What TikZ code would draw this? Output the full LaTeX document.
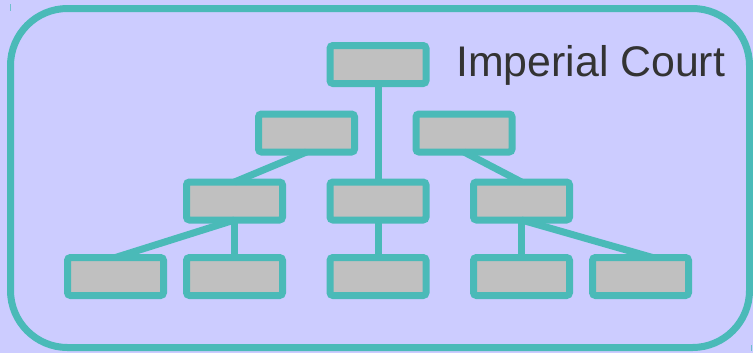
\documentclass[tikz,border=0pt]{standalone}
\usepackage{fontspec}
\setmainfont{Liberation Sans}
\usetikzlibrary{calc}
\definecolor{bg}{HTML}{CCCCFF}
\definecolor{tealline}{HTML}{4ABAB8}
\definecolor{boxgray}{HTML}{C0C0C0}
\definecolor{txt}{HTML}{333333}
\begin{document}
\begin{tikzpicture}[x=1bp,y=-1bp,
  unit/.style={draw=tealline, fill=boxgray, line width=7bp, rounded corners=3bp,
    minimum width=96bp, minimum height=38bp, inner sep=0pt, outer sep=0pt},
  link/.style={draw=tealline, line width=7bp},
  tick/.style={draw=tealline, line width=0.8bp, opacity=0.7}]
\fill[bg] (0,0) rectangle (753,353);
\useasboundingbox (0,0) rectangle (753,353);
\draw[tealline, line width=7bp, rounded corners=57bp] (10.5,8.5) rectangle (749.5,347.5);
% tiny corner marks
\coordinate (tlA) at (10.5,4); \coordinate (tlB) at (10.5,11);
\coordinate (brA) at (751,345); \coordinate (brB) at (751,351);
\draw[tick] (tlA) -- (tlB);
\draw[tick] (brA) -- (brB);
% nodes
\node[unit] (top) at (378,64.5) {};
\node[unit] (bl) at (306.5,133) {};
\node[unit] (br) at (464,133) {};
\node[unit] (ml) at (234.5,201) {};
\node[unit] (mm) at (378,201) {};
\node[unit] (mr) at (521.5,201) {};
\node[unit] (la) at (115.5,276.5) {};
\node[unit] (lb) at (234.5,276.5) {};
\node[unit] (lc) at (378,276.5) {};
\node[unit] (ld) at (521.5,276.5) {};
\node[unit] (le) at (640.5,276.5) {};
\coordinate (leend) at ($(le.north)+(12,0)$);
% connectors
\draw[link] (top.south) -- (mm.north);
\draw[link] (bl.south) -- (ml.north);
\draw[link] (br.south) -- (mr.north);
\draw[link] (ml.south) -- (la.north);
\draw[link] (ml.south) -- (lb.north);
\draw[link] (mm.south) -- (lc.north);
\draw[link] (mr.south) -- (ld.north);
\draw[link] (mr.south) -- (leend);
\node[anchor=base west, text=txt, font=\fontsize{43}{51}\selectfont, inner sep=0pt] (title) at (456,76.5) {Imperial Court};
\end{tikzpicture}
\end{document}
